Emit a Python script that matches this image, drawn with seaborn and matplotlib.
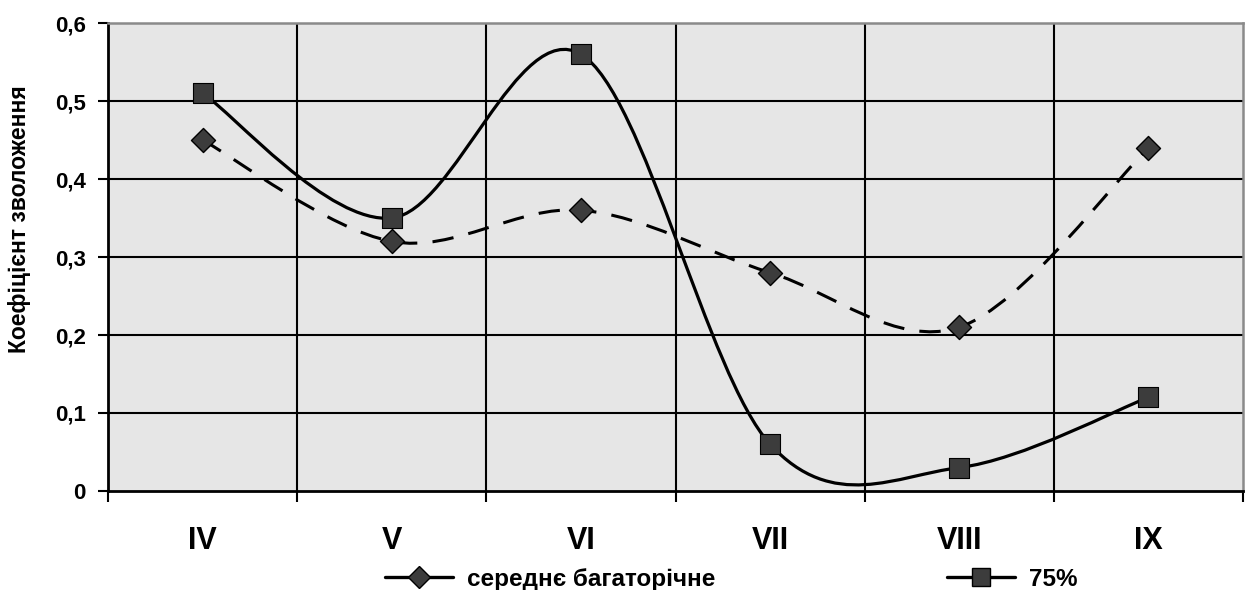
import numpy as np
import matplotlib
matplotlib.use("Agg")
import matplotlib.pyplot as plt
from matplotlib.path import Path
from matplotlib.patches import PathPatch
from matplotlib.lines import Line2D
import seaborn as sns

months = ["IV", "V", "VI", "VII", "VIII", "IX"]
avg_values = [0.45, 0.32, 0.36, 0.28, 0.21, 0.44]
p75_values = [0.51, 0.35, 0.56, 0.06, 0.03, 0.12]
series_names = ["середнє багаторічне", "75%"]
y_ticks = [0, 0.1, 0.2, 0.3, 0.4, 0.5, 0.6]
y_tick_labels = ["0", "0,1", "0,2", "0,3", "0,4", "0,5", "0,6"]
y_label = "Коефіцієнт зволоження"

sns.set_style("white")
plt.rcParams["font.family"] = ["Liberation Sans", "DejaVu Sans"]
plt.rcParams["font.weight"] = "bold"
plt.rcParams["text.color"] = "black"
plt.rcParams["axes.labelcolor"] = "black"
plt.rcParams["xtick.color"] = "black"
plt.rcParams["ytick.color"] = "black"


def smooth_path(xs, ys):
    """Excel-style smoothed line as cubic Bezier segments."""
    pts = np.column_stack([xs, ys]).astype(float)
    n = len(pts)
    verts = [pts[0]]
    codes = [Path.MOVETO]
    for i in range(n - 1):
        p0 = pts[i - 1] if i > 0 else pts[i]
        p1 = pts[i]
        p2 = pts[i + 1]
        p3 = pts[i + 2] if i + 2 < n else pts[i + 1]
        c1 = p1 + (p2 - p0) / 6
        c2 = p2 - (p3 - p1) / 6
        verts += [c1, c2, p2]
        codes += [Path.CURVE4] * 3
    return Path(verts, codes)


fig = plt.figure(figsize=(12.5, 5.9), dpi=100)
ax = fig.add_axes([0.0864, 0.1678, 0.908, 0.7932])
ax.set_facecolor("#e6e6e6")

x = np.arange(len(months))
dark = "#3c3c3c"

ax.add_patch(PathPatch(smooth_path(x, avg_values), fill=False, edgecolor="black",
                       lw=2.2, linestyle=(0, (7, 5)), zorder=3, capstyle="butt"))
ax.add_patch(PathPatch(smooth_path(x, p75_values), fill=False, edgecolor="black",
                       lw=2.3, zorder=3))

sns.scatterplot(x=x, y=avg_values, marker="D", s=150, color=dark, edgecolor="black",
                linewidth=1.0, ax=ax, zorder=4, legend=False)
sns.scatterplot(x=x, y=p75_values, marker="s", s=210, color=dark, edgecolor="black",
                linewidth=0.8, ax=ax, zorder=4, legend=False)

ax.set_xlim(-0.5, len(months) - 0.5)
ax.set_ylim(0, 0.6)

ax.set_yticks(y_ticks)
ax.set_yticklabels(y_tick_labels, fontsize=16, fontweight="bold")
ax.set_xticks(x)
ax.set_xticklabels(months, fontsize=22, fontweight="bold")
ax.set_xticks(np.arange(-0.5, len(months)), minor=True)

ax.tick_params(axis="y", which="major", direction="out", length=7, width=1.5,
               color="black", pad=9, left=True)
ax.tick_params(axis="x", which="major", length=0, pad=25)
ax.tick_params(axis="x", which="minor", direction="out", length=8, width=1.5,
               color="black", bottom=True)

for yv in y_ticks[1:-1]:
    ax.axhline(yv, color="black", lw=1.5, zorder=2)
for xv in np.arange(0.5, len(months) - 0.5):
    ax.axvline(xv, color="black", lw=1.5, zorder=2)

for side in ["left", "bottom"]:
    ax.spines[side].set_color("black")
    ax.spines[side].set_linewidth(2.0)
for side in ["top", "right"]:
    ax.spines[side].set_visible(True)
    ax.spines[side].set_color("#8a8a8a")
    ax.spines[side].set_linewidth(1.8)

ax.set_ylabel(y_label, fontsize=16.5, fontweight="bold")
ax.yaxis.set_label_coords(-0.068, 0.58)
ax.set_xlabel("")

handles = [
    Line2D([], [], color="black", lw=2.4, marker="D", markersize=11,
           markerfacecolor=dark, markeredgecolor="black"),
    Line2D([], [], color="black", lw=2.4, marker="s", markersize=13,
           markerfacecolor=dark, markeredgecolor="black"),
]
fig.legend(handles, series_names, loc="center", bbox_to_anchor=(0.585, 0.018),
           ncol=2, frameon=False, handlelength=2.8, handletextpad=0.6,
           columnspacing=9.5, prop={"size": 17.5, "weight": "bold"})

fig.savefig("out.png", dpi=100)
